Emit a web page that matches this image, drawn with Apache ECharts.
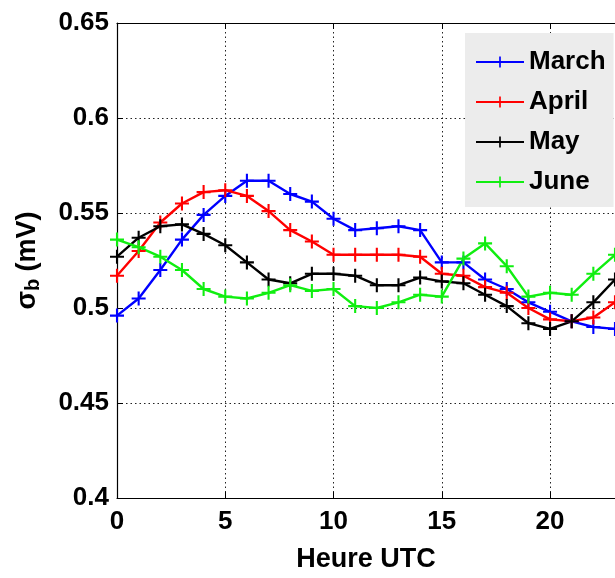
<!DOCTYPE html>
<html>
<head>
<meta charset="utf-8">
<script src="https://cdn.jsdelivr.net/npm/echarts@6/dist/echarts.min.js"></script>
<style>
html,body{margin:0;padding:0;background:#fff;}
#chart{width:615px;height:578px;}
</style>
</head>
<body>
<div id="chart"></div>
<script>
// heures UTC
var hours=[0,1,2,3,4,5,6,7,8,9,10,11,12,13,14,15,16,17,18,19,20,21,22,23];
var march=[0.496,0.505,0.520,0.536,0.549,0.559,0.567,0.567,0.560,0.556,0.547,0.541,0.542,0.543,0.541,0.524,0.524,0.515,0.510,0.503,0.498,0.493,0.490,0.489];
var april=[0.517,0.530,0.545,0.555,0.561,0.562,0.559,0.551,0.541,0.535,0.528,0.528,0.528,0.528,0.527,0.518,0.517,0.511,0.508,0.500,0.494,0.493,0.495,0.503];
var may=[0.527,0.537,0.543,0.544,0.539,0.533,0.524,0.515,0.513,0.518,0.518,0.517,0.512,0.512,0.516,0.514,0.513,0.507,0.501,0.492,0.489,0.493,0.503,0.515];
var june=[0.536,0.532,0.527,0.520,0.510,0.506,0.505,0.508,0.512,0.509,0.510,0.501,0.500,0.503,0.507,0.506,0.526,0.534,0.522,0.506,0.508,0.507,0.518,0.528];
var names=['March','April','May','June'];
var colors=['#0000ff','#ff0000','#000000','#10ee10'];
var yTicks=[0.4,0.65,0.05];  // min, max, pas
var xTicks=[0,23,5];

var font="'Liberation Sans',Arial,sans-serif";
// symbole "+"
var plus='path://M5.1,0 H6.9 V5.1 H12 V6.9 H6.9 V12 H5.1 V6.9 H0 V5.1 H5.1 Z';

function pairs(arr){
	var out=[];
	for(var i=0;i<hours.length;i++){
		out.push([hours[i],arr[i]]);
	}
	return out;
}

var allData=[march,april,may,june];
var series=[];
for(var k=0;k<names.length;k++){
	series.push({
		name:names[k],
		type:'line',
		data:pairs(allData[k]),
		symbol:plus,
		symbolSize:14,
		showSymbol:true,
		color:colors[k],
		lineStyle:{width:2.4,color:colors[k]},
		itemStyle:{color:colors[k]},
		z:3
	});
}

var chart=echarts.init(document.getElementById('chart'));
chart.setOption({
	animation:false,
	backgroundColor:'#fff',
	grid:{left:117,top:23,right:-8,bottom:74,containLabel:false},
	legend:{
		orient:'vertical',
		left:465,
		top:33,
		padding:[14,8,10,10],
		backgroundColor:'#ececec',
		itemWidth:48,
		itemHeight:14,
		itemGap:10,
		textStyle:{fontFamily:font,fontWeight:'bold',fontSize:26,color:'#000',lineHeight:30},
		data:names
	},
	xAxis:[{
		type:'value',
		min:xTicks[0],max:xTicks[1],interval:xTicks[2],
		name:'Heure UTC',
		nameLocation:'middle',
		nameGap:48,
		nameTextStyle:{fontFamily:font,fontWeight:'bold',fontSize:27,color:'#000'},
		axisLine:{lineStyle:{color:'#000',width:1.2}},
		axisTick:{inside:true,length:6,lineStyle:{color:'#000'}},
		axisLabel:{fontFamily:font,fontWeight:'bold',fontSize:26,color:'#000',margin:11,showMaxLabel:false},
		splitLine:{show:true,lineStyle:{color:'#222',type:[1.5,3],width:1}}
	},{
		type:'value',
		position:'top',
		min:xTicks[0],max:xTicks[1],interval:xTicks[2],
		axisLine:{lineStyle:{color:'#000',width:1.2}},
		axisTick:{inside:true,length:6,lineStyle:{color:'#000'}},
		axisLabel:{show:false},
		splitLine:{show:false}
	}],
	yAxis:{
		type:'value',
		min:yTicks[0],max:yTicks[1],interval:yTicks[2],
		name:'{s|σ}{b|b}{s| (mV)}',
		nameLocation:'middle',
		nameGap:74,
		nameTextStyle:{
			color:'#000',
			rich:{
				s:{fontFamily:font,fontWeight:'bold',fontSize:27,color:'#000'},
				b:{fontFamily:font,fontWeight:'bold',fontSize:20,color:'#000',verticalAlign:'bottom',padding:[11,0,0,0]}
			}
		},
		axisLine:{show:true,lineStyle:{color:'#000',width:1.2}},
		axisTick:{show:true,inside:true,length:6,lineStyle:{color:'#000'}},
		axisLabel:{fontFamily:font,fontWeight:'bold',fontSize:26,color:'#000',margin:8},
		splitLine:{show:true,lineStyle:{color:'#222',type:[1.5,3],width:1}}
	},
	series:series
});
</script>
</body>
</html>
